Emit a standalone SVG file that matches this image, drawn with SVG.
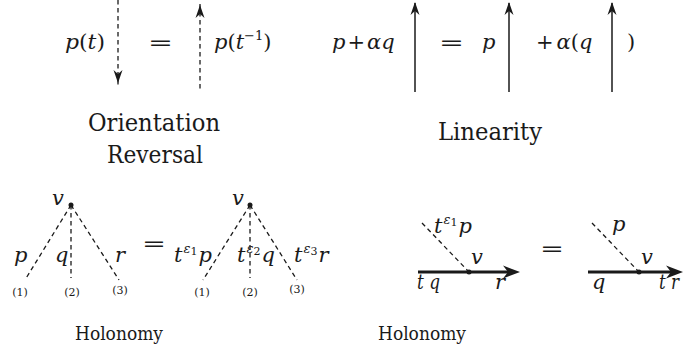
<svg xmlns="http://www.w3.org/2000/svg" width="683" height="362" viewBox="0 0 683 362">
<style>
text{fill:#1a1a1a;font-family:"DejaVu Serif",serif}
.m{font-size:21px}
.i{font-style:italic}
.cap{font-size:24px}
.hol{font-size:19px}
.sm{font-size:11px}
.sup{font-size:13px}
.dash{stroke:#1a1a1a;stroke-width:1.3;stroke-dasharray:4.5 3.5;fill:none}
.solid{stroke:#1a1a1a;stroke-width:1.5;fill:none}
.thick{stroke:#1a1a1a;stroke-width:3;fill:none}
.ah{fill:#1a1a1a}
</style>
<defs>
<path id="ah" d="M0,0 L-13,-4.5 L-9,0 L-13,4.5 Z"/>
<path id="ahB" d="M0,0 L-17,-6.5 L-12,0 L-17,6.5 Z"/>
</defs>

<g id="connectors">
  <line class="dash" x1="118" y1="0" x2="118" y2="88"/>
  <use href="#ah" class="ah" transform="translate(118,83) rotate(90)"/>
  <line class="dash" x1="200" y1="4" x2="200" y2="92"/>
  <use href="#ah" class="ah" transform="translate(200,5) rotate(-90)"/>
  <line class="solid" x1="415" y1="3" x2="415" y2="92"/>
  <use href="#ah" class="ah" transform="translate(415,2) rotate(-90)"/>
  <line class="solid" x1="509" y1="3" x2="509" y2="92"/>
  <use href="#ah" class="ah" transform="translate(509,2) rotate(-90)"/>
  <line class="solid" x1="612" y1="3" x2="612" y2="92"/>
  <use href="#ah" class="ah" transform="translate(612,2) rotate(-90)"/>
  <line class="dash" x1="71" y1="205" x2="25" y2="280"/>
  <line class="dash" x1="71" y1="205" x2="71" y2="278"/>
  <line class="dash" x1="71" y1="205" x2="119" y2="280"/>
  <line class="dash" x1="250" y1="205" x2="203" y2="280"/>
  <line class="dash" x1="250" y1="205" x2="250" y2="278"/>
  <line class="dash" x1="250" y1="205" x2="297" y2="280"/>
  <line class="thick" x1="418" y1="272" x2="510" y2="272"/>
  <use href="#ahB" class="ah" transform="translate(520,272)"/>
  <line class="dash" x1="422" y1="223" x2="469" y2="272"/>
  <line class="thick" x1="588" y1="272" x2="673" y2="272"/>
  <use href="#ahB" class="ah" transform="translate(683,272)"/>
  <line class="dash" x1="592" y1="223" x2="639" y2="272"/>
</g>

<g id="orientation-reversal">
  <text class="m" x="65" y="49" textLength="40" lengthAdjust="spacingAndGlyphs"><tspan class="i">p</tspan>(<tspan class="i">t</tspan>)</text>
  <text class="m" x="148" y="50" textLength="25" lengthAdjust="spacingAndGlyphs">=</text>
  <text class="m" x="214" y="49"><tspan class="i">p</tspan>(<tspan class="i">t</tspan><tspan class="sup" dy="-9">−1</tspan><tspan dy="9">)</tspan></text>
  <text class="cap" x="154" y="131" text-anchor="middle" textLength="132" lengthAdjust="spacingAndGlyphs">Orientation</text>
  <text class="cap" x="155" y="163" text-anchor="middle" textLength="96" lengthAdjust="spacingAndGlyphs">Reversal</text>
</g>

<g id="linearity">
  <text class="m" x="332" y="49"><tspan class="i">p</tspan><tspan dx="2">+</tspan><tspan class="i" dx="2">αq</tspan></text>
  <text class="m" x="439" y="50" textLength="25" lengthAdjust="spacingAndGlyphs">=</text>
  <text class="m i" x="482" y="49">p</text>
  <text class="m" x="536" y="49">+<tspan class="i" dx="3">α</tspan>(<tspan class="i">q</tspan></text>
  <text class="m" x="627" y="49">)</text>
  <text class="cap" x="490" y="140" text-anchor="middle" textLength="104" lengthAdjust="spacingAndGlyphs">Linearity</text>
</g>

<g id="holonomy-left">
  <circle cx="71" cy="205" r="2.5" fill="#1a1a1a"/>
  <text class="m i" x="52" y="205">v</text>
  <text class="m i" x="14" y="262">p</text>
  <text class="m i" x="55" y="262">q</text>
  <text class="m i" x="115" y="262">r</text>
  <text class="sm" x="20" y="296" text-anchor="middle">(1)</text>
  <text class="sm" x="72" y="296" text-anchor="middle">(2)</text>
  <text class="sm" x="120" y="294" text-anchor="middle">(3)</text>
  <text class="m" x="142" y="251" textLength="24" lengthAdjust="spacingAndGlyphs">=</text>
  <circle cx="250" cy="205" r="2.5" fill="#1a1a1a"/>
  <text class="m i" x="232" y="205">v</text>
  <text class="m" x="174" y="262"><tspan class="i">t</tspan><tspan class="sup i" dy="-9" dx="1">ε</tspan><tspan class="sm" dy="2">1</tspan><tspan class="i" dy="7" dx="1">p</tspan></text>
  <text class="m" x="237" y="262"><tspan class="i">t</tspan><tspan class="sup i" dy="-9" dx="1">ε</tspan><tspan class="sm" dy="2">2</tspan><tspan class="i" dy="7" dx="1">q</tspan></text>
  <text class="m" x="294" y="262"><tspan class="i">t</tspan><tspan class="sup i" dy="-9" dx="1">ε</tspan><tspan class="sm" dy="2">3</tspan><tspan class="i" dy="7" dx="1">r</tspan></text>
  <text class="sm" x="202" y="296" text-anchor="middle">(1)</text>
  <text class="sm" x="250" y="296" text-anchor="middle">(2)</text>
  <text class="sm" x="297" y="293" text-anchor="middle">(3)</text>
  <text class="hol" x="119" y="340" text-anchor="middle" textLength="88" lengthAdjust="spacingAndGlyphs">Holonomy</text>
</g>

<g id="holonomy-right">
  <circle cx="469" cy="272" r="2.5" fill="#1a1a1a"/>
  <text class="m" x="434" y="233"><tspan class="i">t</tspan><tspan class="sup i" dy="-9" dx="1">ε</tspan><tspan class="sm" dy="2">1</tspan><tspan class="i" dy="7" dx="1">p</tspan></text>
  <text class="m i" x="471" y="264">v</text>
  <text class="m i" x="417" y="289" textLength="23" lengthAdjust="spacingAndGlyphs">t q</text>
  <text class="m i" x="495" y="289">r</text>
  <text class="m" x="540" y="256" textLength="24" lengthAdjust="spacingAndGlyphs">=</text>
  <circle cx="639" cy="272" r="2.5" fill="#1a1a1a"/>
  <text class="m i" x="612" y="231">p</text>
  <text class="m i" x="641" y="264">v</text>
  <text class="m i" x="592" y="289">q</text>
  <text class="m i" x="659" y="289" textLength="20" lengthAdjust="spacingAndGlyphs">t r</text>
  <text class="hol" x="422" y="340" text-anchor="middle" textLength="88" lengthAdjust="spacingAndGlyphs">Holonomy</text>
</g>
</svg>
